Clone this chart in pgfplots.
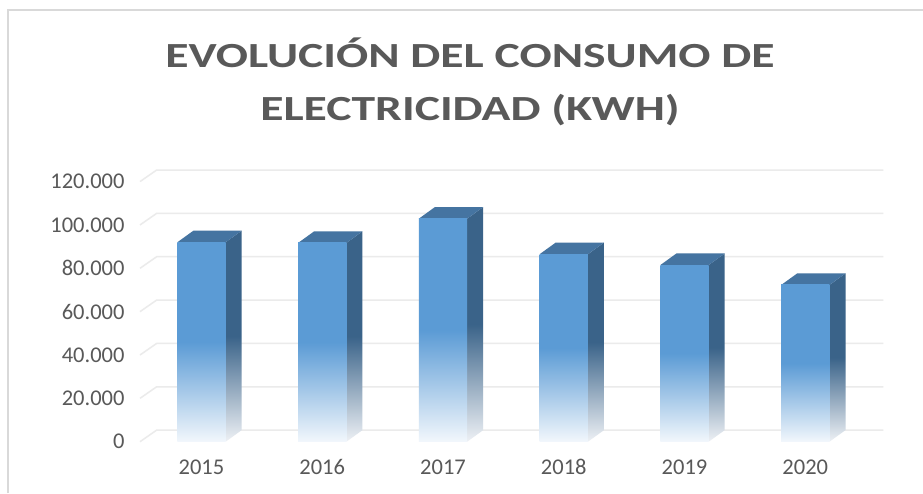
\documentclass[border=0pt]{standalone}
\usepackage{pgfplots}
\pgfplotsset{compat=1.18}
\usepackage{fontspec}
\setmainfont{Carlito}
\definecolor{frontblue}{HTML}{5B9BD5}
\definecolor{topblue}{HTML}{4574A1}
\definecolor{sideblue}{HTML}{3A6389}
\definecolor{fadewhite}{HTML}{F2F7FC}
\definecolor{sidewhite}{HTML}{EEF1F5}
\definecolor{gridgray}{HTML}{EBEBEB}
\definecolor{txtgray}{HTML}{595959}
\definecolor{framegray}{HTML}{D9D9D9}
\pgfdeclareverticalshading{frontfade}{100bp}{color(0bp)=(fadewhite); color(25bp)=(fadewhite); color(50bp)=(frontblue); color(75bp)=(frontblue); color(100bp)=(frontblue)}
\pgfdeclareverticalshading{sidefade}{100bp}{color(0bp)=(sidewhite); color(25bp)=(sidewhite); color(50bp)=(sideblue); color(75bp)=(sideblue); color(100bp)=(sideblue)}
\begin{document}
\begin{tikzpicture}[x=1pt,y=1pt]
\path[use as bounding box] (0,0) rectangle (923,-493);
\fill[white] (0,0) rectangle (923,-493);
\draw[framegray, line width=2pt] (8,-493) -- (8,-10) -- (923,-10);
\begin{axis}[
  at={(140pt,-441.7pt)}, anchor=south west,
  width=743.3pt, height=271.7pt, scale only axis,
  xmin=-0.509, xmax=5.646, ymin=0, ymax=125350,
  clip=false,
  axis line style={draw=none}, tick style={draw=none},
  xtick={0,1,2,3,4,5},
  xticklabels={2015,2016,2017,2018,2019,2020},
  ytick={0,20000,40000,60000,80000,100000,120000},
  yticklabels={0,20.000,40.000,60.000,80.000,100.000,120.000},
  scaled y ticks=false,
  ticklabel style={font=\fontsize{22.5}{24}\selectfont, text=txtgray},
  yticklabel style={xshift=-12pt},
  xticklabel style={anchor=base, yshift=-33pt},
  title={\scalebox{1.35}[1]{EVOLUCIÓN DEL CONSUMO DE}\\\scalebox{1.35}[1]{ELECTRICIDAD (KWH)}},
  title style={at={(axis description cs:0.444,1.302)}, anchor=center, align=center,
    font=\bfseries\fontsize{35.3}{53}\selectfont, text=txtgray},
]
% back-wall gridlines
\addplot[gridgray, line width=1.5pt] coordinates {(-0.509,0) (-0.371,5350) (5.646,5350)};
\addplot[gridgray, line width=1.5pt] coordinates {(-0.509,20000) (-0.371,25350) (5.646,25350)};
\addplot[gridgray, line width=1.5pt] coordinates {(-0.509,40000) (-0.371,45350) (5.646,45350)};
\addplot[gridgray, line width=1.5pt] coordinates {(-0.509,60000) (-0.371,65350) (5.646,65350)};
\addplot[gridgray, line width=1.5pt] coordinates {(-0.509,80000) (-0.371,85350) (5.646,85350)};
\addplot[gridgray, line width=1.5pt] coordinates {(-0.509,100000) (-0.371,105350) (5.646,105350)};
\addplot[gridgray, line width=1.5pt] coordinates {(-0.509,120000) (-0.371,125350) (5.646,125350)};
% side faces
\addplot[draw=none, shading=sidefade] coordinates {(0.2,0) (0.2,92000) (0.333,97350) (0.333,5350)};
\addplot[draw=none, shading=sidefade] coordinates {(1.2,0) (1.2,91700) (1.333,97050) (1.333,5350)};
\addplot[draw=none, shading=sidefade] coordinates {(2.2,0) (2.2,102900) (2.333,108250) (2.333,5350)};
\addplot[draw=none, shading=sidefade] coordinates {(3.2,0) (3.2,86500) (3.333,91850) (3.333,5350)};
\addplot[draw=none, shading=sidefade] coordinates {(4.2,0) (4.2,81500) (4.333,86850) (4.333,5350)};
\addplot[draw=none, shading=sidefade] coordinates {(5.2,0) (5.2,72300) (5.333,77650) (5.333,5350)};
% top faces
\addplot[draw=none, fill=topblue] coordinates {(-0.2,92000) (0.2,92000) (0.333,97350) (-0.067,97350)};
\addplot[draw=none, fill=topblue] coordinates {(0.8,91700) (1.2,91700) (1.333,97050) (0.933,97050)};
\addplot[draw=none, fill=topblue] coordinates {(1.8,102900) (2.2,102900) (2.333,108250) (1.933,108250)};
\addplot[draw=none, fill=topblue] coordinates {(2.8,86500) (3.2,86500) (3.333,91850) (2.933,91850)};
\addplot[draw=none, fill=topblue] coordinates {(3.8,81500) (4.2,81500) (4.333,86850) (3.933,86850)};
\addplot[draw=none, fill=topblue] coordinates {(4.8,72300) (5.2,72300) (5.333,77650) (4.933,77650)};
% front faces (values)
\addplot[ybar, bar width=0.4, bar shift=0pt, draw=none, shading=frontfade] coordinates {(0,92000)};
\addplot[ybar, bar width=0.4, bar shift=0pt, draw=none, shading=frontfade] coordinates {(1,91700)};
\addplot[ybar, bar width=0.4, bar shift=0pt, draw=none, shading=frontfade] coordinates {(2,102900)};
\addplot[ybar, bar width=0.4, bar shift=0pt, draw=none, shading=frontfade] coordinates {(3,86500)};
\addplot[ybar, bar width=0.4, bar shift=0pt, draw=none, shading=frontfade] coordinates {(4,81500)};
\addplot[ybar, bar width=0.4, bar shift=0pt, draw=none, shading=frontfade] coordinates {(5,72300)};
\end{axis}
\end{tikzpicture}
\end{document}
